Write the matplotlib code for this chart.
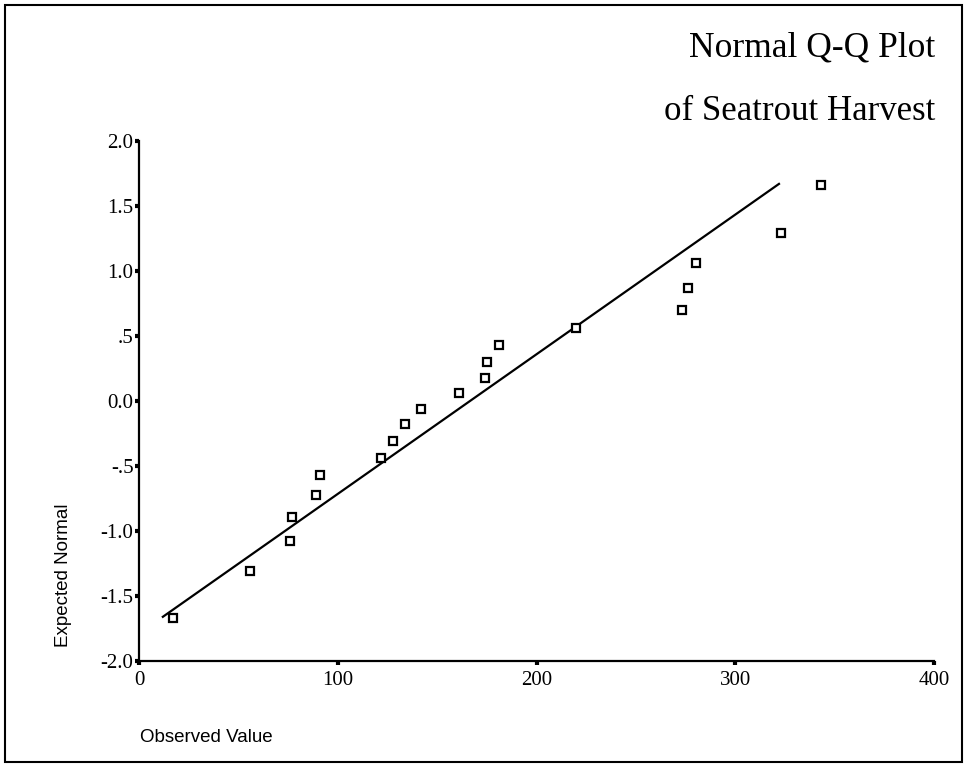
import matplotlib
matplotlib.use("Agg")
import matplotlib.pyplot as plt
from matplotlib.patches import Rectangle

observed = [17, 56, 76, 77, 89, 91, 122, 128, 134, 142, 161, 174, 175, 181,
            220, 273, 276, 280, 323, 343]
expected = [-1.67, -1.31, -1.08, -0.89, -0.72, -0.57, -0.44, -0.31, -0.18, -0.06,
            0.06, 0.18, 0.30, 0.43, 0.56, 0.70, 0.87, 1.06, 1.29, 1.66]

# reference line end points
line_x = [12, 322]
line_y = [-1.66, 1.67]

xticks = [0, 100, 200, 300, 400]
xtick_labels = ["0", "100", "200", "300", "400"]
yticks = [2.0, 1.5, 1.0, 0.5, 0.0, -0.5, -1.0, -1.5, -2.0]
ytick_labels = ["2.0", "1.5", "1.0", ".5", "0.0", "-.5", "-1.0", "-1.5", "-2.0"]

W, H = 971, 767
fig = plt.figure(figsize=(W / 100, H / 100), dpi=100)

# outer frame
fig.patches.append(Rectangle((5 / W, 1 - 762 / H), 957 / W, 757 / H,
                             transform=fig.transFigure, fill=False,
                             edgecolor="black", linewidth=1.5))

ax = fig.add_axes([139 / W, 1 - 661 / H, (934 - 139) / W, (661 - 141) / H])
ax.set_xlim(0, 400)
ax.set_ylim(-2, 2)

ax.plot(line_x, line_y, color="black", linewidth=1.6)
ax.plot(observed, expected, linestyle="none", marker="s", markersize=5.5,
        markerfacecolor="white", markeredgecolor="black", markeredgewidth=1.6,
        clip_on=False)

for side in ["top", "right"]:
    ax.spines[side].set_visible(False)
for side in ["left", "bottom"]:
    ax.spines[side].set_linewidth(1.6)

serif = "Liberation Serif"
sans = "Liberation Sans"

ax.set_xticks(xticks)
ax.set_xticklabels(xtick_labels, family=serif, fontsize=15)
ax.set_yticks(yticks)
ax.set_yticklabels(ytick_labels, family=serif, fontsize=15)
ax.tick_params(axis="y", direction="out", length=3, width=3, pad=1)
ax.tick_params(axis="x", direction="out", length=3, width=3, pad=4)

fig.text(63 / W, 1 - 575 / H, "Expected Normal", family=sans, fontsize=13.5,
         rotation=90, ha="center", va="center")
fig.text(140 / W, 1 - 737 / H, "Observed Value", family=sans, fontsize=13.5,
         ha="left", va="center")

fig.text(935 / W, 1 - 48 / H, "Normal Q-Q Plot", family=serif, fontsize=25.5,
         ha="right", va="center")
fig.text(935 / W, 1 - 112 / H, "of Seatrout Harvest", family=serif, fontsize=25,
         ha="right", va="center")

fig.savefig("out.png", dpi=100)
